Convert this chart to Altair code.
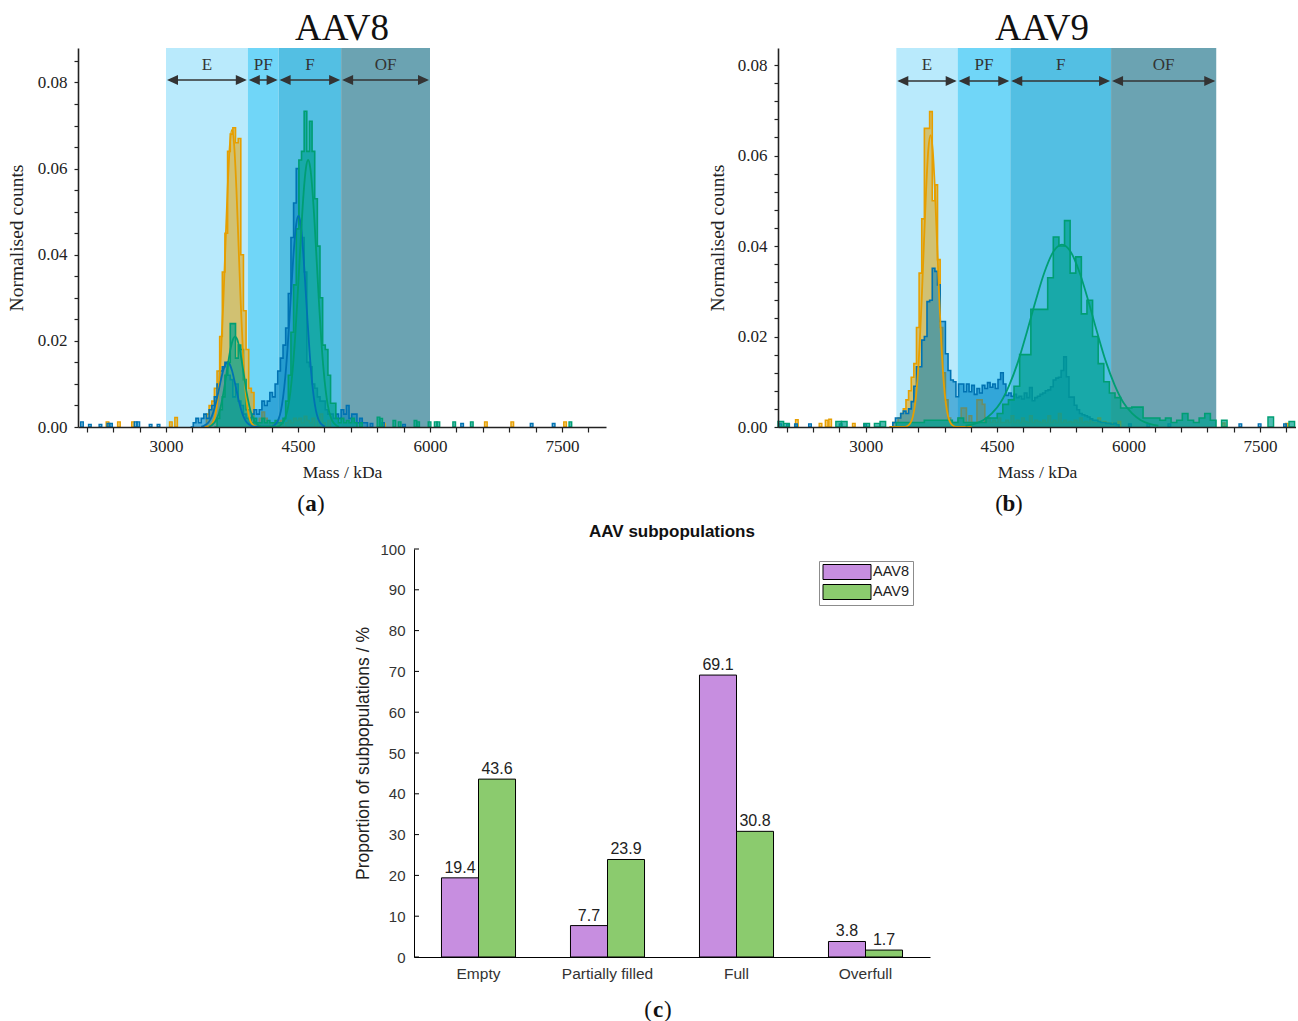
import altair as alt
import pandas as pd

SERIF = "Liberation Serif"
SANS = "Liberation Sans"
INK = "#222222"

ORANGE = "#e69f00"
BLUE = "#0072b2"
GREEN = "#009e73"
ORANGE_FILL = "#e69f00"
BLUE_FILL = "#0080c0"
GREEN_FILL = "#00a090"
PURPLE = "#c78ee0"
LEAF = "#8bcb6e"

REGION_NAMES = ["E", "PF", "F", "OF"]
REGION_COLOURS = ["#b9eafc", "#70d6f8", "#53bfe3", "#6ba3b2"]

# Subpopulation boundaries (kDa)
aav8_bounds = [3000, 3930, 4280, 4990, 6000]
aav9_bounds = [3350, 4050, 4650, 5800, 7000]

# ---------------- AAV8 mass histograms (normalised counts per bin) ----------------
aav8_bin = 30
aav8_orange_start = 3430
aav8_orange = [0, 0.003, 0.005, 0.006, 0.009, 0.013, 0.021, 0.036, 0.045, 0.064,
               0.068, 0.0695, 0.066, 0.067, 0.040, 0.027, 0.018, 0.009, 0.008, 0.001,
               0.001, 0.002, 0.0035, 0.002, 0.001, 0.0, 0.001, 0.0, 0.001, 0.0015,
               0.0, 0.001, 0.0015, 0.001, 0.002, 0.0015, 0.002, 0.001, 0.0025, 0.0015,
               0.001, 0.002, 0.0, 0.0015, 0.003, 0.001, 0.0, 0.0015, 0]
aav8_blue_start = 3280
aav8_blue = [0, 0.001, 0.002, 0.001, 0.002, 0.003, 0.002, 0.004, 0.005, 0.007,
             0.010, 0.013, 0.014, 0.015, 0.012, 0.011, 0.007, 0.010, 0.006, 0.005,
             0.003, 0.002, 0.002, 0.003, 0.004, 0.003, 0.004, 0.006, 0.005, 0.006,
             0.008, 0.007, 0.010, 0.013, 0.016, 0.019, 0.023, 0.031, 0.044, 0.052,
             0.060, 0.047, 0.044, 0.036, 0.015, 0.014, 0.010, 0.009, 0.007, 0.006,
             0.006, 0.004, 0.003, 0.003, 0.002, 0.003, 0.002, 0.004, 0.003, 0.005,
             0.002, 0.003, 0.003, 0.001, 0.002, 0.001, 0.001, 0]
aav8_green_start = 3550
aav8_green = [0, 0.002, 0.004, 0.007, 0.012, 0.015, 0.024, 0.024, 0.016, 0.019,
              0.018, 0.011, 0.004, 0.002, 0.001, 0.002, 0.001, 0.001, 0.002, 0.001,
              0.0015, 0.001, 0.001, 0.0015, 0.001, 0.001, 0.002, 0.006, 0.012, 0.022,
              0.033, 0.046, 0.062, 0.064, 0.0733, 0.064, 0.071, 0.064, 0.053, 0.042,
              0.030, 0.019, 0.018, 0.012, 0.0055, 0.0055, 0.002, 0.001, 0.002, 0.001,
              0.0015, 0.001, 0.002, 0.001, 0]

# isolated single-bin events away from the main peaks
aav8_orange_single_mass = [2320, 2450, 2610, 3040, 3100, 5460, 6620, 6920, 7520]
aav8_orange_single = [0.0012, 0.0012, 0.0012, 0.0012, 0.0022, 0.0008, 0.0012, 0.0012, 0.0012]
aav8_blue_single_mass = [2030, 2120, 2240, 2330, 2360, 2640, 2670, 2810, 2900,
                         5320, 5450, 5690, 6350, 7140, 7390]
aav8_blue_single = [0.0012, 0.0006, 0.0006, 0.0008, 0.0008, 0.0012, 0.0012, 0.0006, 0.0006,
                    0.0008, 0.001, 0.0006, 0.0008, 0.0008, 0.0008]
aav8_green_single_mass = [5200, 5400, 5430, 5580, 5640, 5820, 5850, 5980, 6050, 6080,
                          6260, 6460, 7580]
aav8_green_single = [0.001, 0.0023, 0.002, 0.0015, 0.0012, 0.0015, 0.0012, 0.0012, 0.0012,
                     0.0012, 0.0012, 0.0012, 0.0012]

# Gaussian fits
aav8_orange_fit_mass = list(range(3425, 4076, 25))
aav8_orange_fit = [0, 0, 0.0001, 0.0003, 0.0008, 0.0020, 0.0045, 0.0093, 0.0172, 0.0284,
                   0.0419, 0.0553, 0.0653, 0.0690, 0.0653, 0.0553, 0.0419, 0.0284, 0.0172,
                   0.0093, 0.0045, 0.0020, 0.0008, 0.0003, 0.0001, 0, 0]
aav8_blue_fit_mass = list(range(3400, 4001, 25)) + list(range(4205, 4806, 25))
aav8_blue_fit = [0.0001, 0.0002, 0.0005, 0.0009, 0.0016, 0.0027, 0.0043, 0.0063, 0.0086,
                 0.0110, 0.0131, 0.0145, 0.0150, 0.0145, 0.0131, 0.0110, 0.0086, 0.0063,
                 0.0043, 0.0027, 0.0016, 0.0009, 0.0005, 0.0002, 0.0001,
                 0.0001, 0.0004, 0.0009, 0.0019, 0.0037, 0.0068, 0.0115, 0.0179, 0.0257,
                 0.0341, 0.0417, 0.0471, 0.0490, 0.0471, 0.0417, 0.0341, 0.0257, 0.0179,
                 0.0115, 0.0068, 0.0037, 0.0019, 0.0009, 0.0004, 0.0001]
aav8_green_fit_mass = list(range(3485, 4086, 25)) + list(range(4265, 4966, 25))
aav8_green_fit = [0.0001, 0.0003, 0.0007, 0.0013, 0.0023, 0.0038, 0.0060, 0.0088, 0.0121,
                  0.0154, 0.0183, 0.0203, 0.0210, 0.0203, 0.0183, 0.0154, 0.0121, 0.0088,
                  0.0060, 0.0038, 0.0023, 0.0013, 0.0007, 0.0003, 0.0001,
                  0.0001, 0.0003, 0.0007, 0.0014, 0.0027, 0.0049, 0.0084, 0.0134, 0.0201,
                  0.0284, 0.0376, 0.0468, 0.0547, 0.0601, 0.0620, 0.0601, 0.0547, 0.0468,
                  0.0376, 0.0284, 0.0201, 0.0134, 0.0084, 0.0049, 0.0027, 0.0014, 0.0007,
                  0.0003, 0.0001]

# ---------------- AAV9 mass histograms ----------------
aav9_bin = 30
aav9_green_bin = 64
aav9_orange_start = 3280
aav9_orange = [0, 0.001, 0.001, 0.002, 0.003, 0.004, 0.006, 0.008, 0.011, 0.014,
               0.022, 0.034, 0.046, 0.066, 0.066, 0.0697, 0.050, 0.0535, 0.037, 0.022,
               0.012, 0.006, 0.002, 0.001, 0.001, 0.001, 0.002, 0.0042, 0.0042, 0.001,
               0.0025, 0.001, 0.001, 0.006, 0.006, 0.005, 0.001, 0.002, 0.001, 0.0015,
               0.001, 0.002, 0.001, 0.001, 0.0015, 0.001, 0.0025, 0.001, 0.0015, 0.001,
               0.002, 0.0012, 0.001, 0.0025, 0.001, 0.0015, 0.0012, 0.001, 0.0015, 0.001,
               0.0025, 0.001, 0.0015, 0.001, 0.003, 0.001, 0.0015, 0.001, 0.0012, 0.001,
               0.0015, 0.001, 0.002, 0.001, 0.0012, 0.001, 0.0015, 0.001, 0.001, 0.002,
               0.001, 0.0012, 0.001, 0.0008, 0.0008, 0]
aav9_blue_start = 3280
aav9_blue = [0, 0.001, 0.002, 0.002, 0.003, 0.0035, 0.003, 0.004, 0.0056, 0.009,
             0.0133, 0.0133, 0.0192, 0.020, 0.0277, 0.028, 0.0351, 0.0344, 0.0314, 0.0233,
             0.0233, 0.0162, 0.0125, 0.0104, 0.010, 0.0067, 0.0095, 0.0095, 0.0078, 0.0095,
             0.0078, 0.0092, 0.0072, 0.0085, 0.0075, 0.0092, 0.0085, 0.0098, 0.0088, 0.0095,
             0.0085, 0.0105, 0.012, 0.0095, 0.007, 0.0075, 0.0068, 0.0072, 0.0065, 0.0068,
             0.0062, 0.0075, 0.0065, 0.0087, 0.0058, 0.0065, 0.0068, 0.0072, 0.0075, 0.0080,
             0.0082, 0.0089, 0.0104, 0.0108, 0.0110, 0.0125, 0.0155, 0.0111, 0.0066, 0.0066,
             0.0048, 0.0038, 0.0030, 0.0027, 0.0025, 0.0022, 0.0018, 0.0015, 0.0015, 0.0012,
             0.0010, 0.0010, 0.0008, 0.0008, 0.0006, 0.0008, 0.0005, 0]
aav9_green_start = 3285
aav9_green = [0, 0.001, 0.001, 0.001, 0.001, 0.001, 0.0015, 0.0015, 0.0015, 0.0015,
              0.0015, 0.001, 0.002, 0.001, 0.001, 0.001, 0.001, 0.002, 0.002, 0.003,
              0.005, 0.006, 0.009, 0.016, 0.016, 0.026, 0.026, 0.026, 0.033, 0.042,
              0.040, 0.0456, 0.034, 0.0376, 0.025, 0.028, 0.020, 0.014, 0.010, 0.0075,
              0.0065, 0.0042, 0.0042, 0.0044, 0.0044, 0.002, 0.002, 0.002, 0.0015, 0.002,
              0.001, 0.0015, 0.003, 0.0015, 0.001, 0.002, 0.003, 0.0015, 0]

aav9_orange_single_mass = [2200, 2470, 2540, 2580, 2850, 5880, 7070, 7790]
aav9_orange_single = [0.0016, 0.0008, 0.0015, 0.0017, 0.0008, 0.0012, 0.0009, 0.0008]
aav9_blue_single_mass = [2010, 2100, 2190, 2350, 2700, 2980, 6000, 6210, 6450, 7260, 7480, 7770]
aav9_blue_single = [0.0007] * 12
aav9_green_single_mass = [2000, 2064, 2660, 2724, 2980, 3100, 3164, 7060, 7590, 7830]
aav9_green_single = [0.0012, 0.0008, 0.0012, 0.0012, 0.0008, 0.0008, 0.0012, 0.0015, 0.0022, 0.0012]

aav9_orange_fit_mass = [3270] + list(range(3440, 4041, 25)) + [4210]
aav9_orange_fit = [0, 0, 0.0001, 0.0004, 0.0010, 0.0024, 0.0052, 0.0101, 0.0179, 0.0284,
                   0.0406, 0.0525, 0.0613, 0.0645, 0.0613, 0.0525, 0.0406, 0.0284, 0.0179,
                   0.0101, 0.0052, 0.0024, 0.0010, 0.0004, 0.0001, 0, 0]
aav9_green_fit_mass = list(range(4140, 6341, 100))
aav9_green_fit = [0.0003, 0.0007, 0.0015, 0.0030, 0.0054, 0.0093, 0.0145, 0.0210, 0.0279,
                  0.0342, 0.0387, 0.0403, 0.0387, 0.0342, 0.0279, 0.0210, 0.0145, 0.0093,
                  0.0054, 0.0030, 0.0015, 0.0007, 0.0003]

# ---------------- Subpopulation proportions (%) ----------------
populations = ["Empty", "Partially filled", "Full", "Overfull"]
serotypes = ["AAV8", "AAV9"]
aav8_pct = [19.4, 7.7, 69.1, 3.8]
aav9_pct = [43.6, 23.9, 30.8, 1.7]

LEFT_HEAD = "M0,0L2.2,-1L2.2,1Z"
RIGHT_HEAD = "M0,0L-2.2,-1L-2.2,1Z"


def caption_layers(letter, cx, cy, font):
    base = alt.Chart(pd.DataFrame({"k": [0]}))
    common = dict(font=font, fontSize=23, baseline="middle", color="#111111")
    return [
        base.mark_text(text="(", align="right", **common).encode(x=alt.value(cx - 6), y=alt.value(cy)),
        base.mark_text(text=letter, align="center", fontWeight="bold", **common).encode(
            x=alt.value(cx), y=alt.value(cy)),
        base.mark_text(text=")", align="left", **common).encode(x=alt.value(cx + 6), y=alt.value(cy)),
    ]


def mass_panel(name, letter, bounds, xdom, ydom, ystep, nticks, width, height,
               series, fits, title_x, arrow_y, label_y, cap_x, cap_y, title_dx):
    x_axis = alt.Axis(
        values=list(range(2100, 8000, 300)),
        labelExpr="datum.value % 1500 === 0 ? '' + datum.value : ''",
        labelOverlap=False, labelFlush=False, labelFont=SERIF, labelFontSize=17,
        labelColor=INK, labelPadding=6, tickSize=5, tickColor=INK, tickWidth=1.2,
        domainColor=INK, domainWidth=1.6, grid=False, zindex=1,
        title="Mass / kDa", titleFont=SERIF, titleFontSize=17.5, titleFontWeight="normal",
        titleColor=INK, titleY=45, titleBaseline="middle")
    y_axis = alt.Axis(
        values=[round(ystep * i, 3) for i in range(nticks)],
        labelExpr="round(datum.value * 1000) % 20 === 0 ? format(datum.value, '.2f') : ''",
        labelOverlap=False, labelFlush=False, labelFont=SERIF, labelFontSize=17,
        labelColor=INK, labelPadding=7, tickSize=4, tickColor=INK, tickWidth=1.2,
        domainColor=INK, domainWidth=1.6, grid=False, zindex=1,
        title="Normalised counts", titleFont=SERIF, titleFontSize=19.5,
        titleFontWeight="normal", titleColor=INK, titleX=title_x, titleY=height / 2,
        titleBaseline="middle", titleAngle=270)

    def X(field):
        return alt.X(f"{field}:Q", scale=alt.Scale(domain=xdom, nice=False, zero=False), axis=x_axis)

    def Y(field):
        return alt.Y(f"{field}:Q", scale=alt.Scale(domain=ydom, nice=False), axis=y_axis)

    regions = pd.DataFrame({
        "lo": bounds[:-1], "hi": bounds[1:],
        "mid": [(a + b) / 2 for a, b in zip(bounds[:-1], bounds[1:])],
        "name": REGION_NAMES, "colour": REGION_COLOURS})
    reg = alt.Chart(regions)
    layers = [
        reg.mark_rect().encode(x=X("lo"), x2="hi", y=alt.value(0), y2=alt.value(height),
                               color=alt.Color("colour:N", scale=None)),
        reg.mark_rule(color="#333333", strokeWidth=1.5, xOffset=3, x2Offset=-3).encode(
            x=X("lo"), x2="hi", y=alt.value(arrow_y)),
        reg.mark_point(shape=LEFT_HEAD, size=100, filled=True, opacity=1, strokeWidth=0,
                       color="#333333", xOffset=1).encode(x=X("lo"), y=alt.value(arrow_y)),
        reg.mark_point(shape=RIGHT_HEAD, size=100, filled=True, opacity=1, strokeWidth=0,
                       color="#333333", xOffset=-1).encode(x=X("hi"), y=alt.value(arrow_y)),
        reg.mark_text(font=SERIF, fontSize=17, color="#333333", baseline="middle").encode(
            x=X("mid"), y=alt.value(label_y), text="name:N"),
    ]

    for start, binw, heights, s_mass, s_counts, colour, fill, alpha in series:
        steps = pd.DataFrame({"mass": [start + i * binw for i in range(len(heights))],
                              "count": heights})
        sc = alt.Chart(steps)
        layers.append(sc.mark_area(interpolate="step-after", color=fill, opacity=alpha).encode(
            x=X("mass"), y=Y("count")))
        layers.append(sc.mark_line(interpolate="step-after", color=colour, strokeWidth=1.6).encode(
            x=X("mass"), y=Y("count")))
        singles = pd.DataFrame({"mass": s_mass, "mass_end": [m + binw for m in s_mass],
                                "count": s_counts, "base": [0] * len(s_mass)})
        layers.append(alt.Chart(singles).mark_rect(
            fill=fill, fillOpacity=alpha, stroke=colour, strokeWidth=1.4).encode(
            x=X("mass"), x2="mass_end", y=Y("count"), y2="base"))

    for f_mass, f_vals, colour in fits:
        fit = pd.DataFrame({"mass": f_mass, "count": f_vals})
        layers.append(alt.Chart(fit).mark_line(
            interpolate="monotone", color=colour, strokeWidth=1.8).encode(x=X("mass"), y=Y("count")))

    layers += caption_layers(letter, cap_x, cap_y, SERIF)

    return alt.layer(*layers).properties(
        width=width, height=height,
        title=alt.TitleParams(name, font=SERIF, fontSize=37, fontWeight="normal",
                              color="#111111", offset=0, anchor="middle", dx=title_dx))


panel_a = mass_panel(
    "AAV8", "a", aav8_bounds, [2000, 8000], [0, 0.088], 0.005, 18, 528, 379,
    [(aav8_orange_start, aav8_bin, aav8_orange, aav8_orange_single_mass, aav8_orange_single,
      ORANGE, ORANGE_FILL, 0.55),
     (aav8_blue_start, aav8_bin, aav8_blue, aav8_blue_single_mass, aav8_blue_single,
      BLUE, BLUE_FILL, 0.55),
     (aav8_green_start, aav8_bin, aav8_green, aav8_green_single_mass, aav8_green_single,
      GREEN, GREEN_FILL, 0.7)],
    [(aav8_orange_fit_mass, aav8_orange_fit, ORANGE),
     (aav8_blue_fit_mass, aav8_blue_fit, BLUE),
     (aav8_green_fit_mass, aav8_green_fit, GREEN)],
    title_x=-62, arrow_y=32, label_y=17, cap_x=233, cap_y=456, title_dx=0)

panel_b = mass_panel(
    "AAV9", "b", aav9_bounds, [2000, 7910], [0, 0.08376], 0.004, 21, 518, 379,
    [(aav9_orange_start, aav9_bin, aav9_orange, aav9_orange_single_mass, aav9_orange_single,
      ORANGE, ORANGE_FILL, 0.55),
     (aav9_blue_start, aav9_bin, aav9_blue, aav9_blue_single_mass, aav9_blue_single,
      BLUE, BLUE_FILL, 0.55),
     (aav9_green_start, aav9_green_bin, aav9_green, aav9_green_single_mass, aav9_green_single,
      GREEN, GREEN_FILL, 0.7)],
    [(aav9_orange_fit_mass, aav9_orange_fit, ORANGE),
     (aav9_green_fit_mass, aav9_green_fit, GREEN)],
    title_x=-61, arrow_y=33, label_y=17, cap_x=231, cap_y=456, title_dx=5)

# ---------------- Grouped bar chart ----------------
bars_df = pd.DataFrame({
    "population": populations * 2,
    "serotype": [serotypes[0]] * 4 + [serotypes[1]] * 4,
    "pct": aav8_pct + aav9_pct})

c_w, c_h = 516, 408
cx = alt.X("population:N", sort=populations,
           scale=alt.Scale(paddingInner=0.426, paddingOuter=0.213),
           axis=alt.Axis(title=None, labelAngle=0, labelFont=SANS, labelFontSize=15.5,
                         labelColor="#333333", labelPadding=9, ticks=False,
                         domainColor="black", domainWidth=1, grid=False))
cxo = alt.XOffset("serotype:N", sort=serotypes, scale=alt.Scale(paddingInner=0, paddingOuter=0))
cy = alt.Y("pct:Q", scale=alt.Scale(domain=[0, 100], nice=False),
           axis=alt.Axis(values=list(range(0, 101, 10)), labelFont=SANS, labelFontSize=15,
                         labelColor="#333333", labelPadding=9, ticks=False,
                         domainColor="black", domainWidth=1, grid=False,
                         title="Proportion of subpopulations / %", titleFont=SANS,
                         titleFontSize=17.5, titleFontWeight="normal", titleColor=INK,
                         titleX=-51, titleY=c_h / 2, titleBaseline="middle", titleAngle=270))

# the colour legend is placed in the coordinates of the whole figure
legend = alt.Legend(
    title=None, orient="none", legendX=741, legendY=513, direction="vertical",
    symbolType="M-3.2,-1H3.2V1H-3.2Z", symbolSize=225, symbolStrokeColor="black",
    symbolStrokeWidth=1, symbolOpacity=1, labelFont=SANS, labelFontSize=14.5,
    labelColor=INK, strokeColor="#8c8c8c", fillColor="white", padding=3,
    rowPadding=0, symbolOffset=17, labelOffset=18)

bars = alt.Chart(bars_df).mark_bar(stroke="black", strokeWidth=1).encode(
    x=cx, xOffset=cxo, y=cy,
    color=alt.Color("serotype:N", scale=alt.Scale(domain=serotypes, range=[PURPLE, LEAF]),
                    legend=legend))
values = alt.Chart(bars_df).mark_text(dy=-10, font=SANS, fontSize=16, color=INK).encode(
    x=cx, xOffset=cxo, y=cy, text=alt.Text("pct:Q", format=".1f"))
inner_ticks = alt.Chart(pd.DataFrame({"pct": list(range(0, 101, 10))})).mark_rule(
    color="black").encode(y=cy, x=alt.value(0), x2=alt.value(5))

panel_c = alt.layer(bars, values, inner_ticks, *caption_layers("c", 244, 461, SERIF)).properties(
    width=c_w, height=c_h,
    title=alt.TitleParams("AAV subpopulations", font=SANS, fontSize=17, fontWeight="bold",
                          color="#111111", offset=1, anchor="middle"))

spacer = alt.Chart(pd.DataFrame({"k": [0]})).mark_point(opacity=0).encode(
    x=alt.value(2), y=alt.value(2)).properties(width=276, height=20)

top = alt.hconcat(panel_a, panel_b, spacing=101)
bottom = alt.hconcat(spacer, panel_c, spacing=0)

chart = alt.vconcat(top, bottom, spacing=7).properties(
    padding={"left": 6, "top": 10, "right": 0, "bottom": 0}
).configure_view(strokeWidth=0)

chart.save("out.html", embed_options={"renderer": "svg", "actions": False})
